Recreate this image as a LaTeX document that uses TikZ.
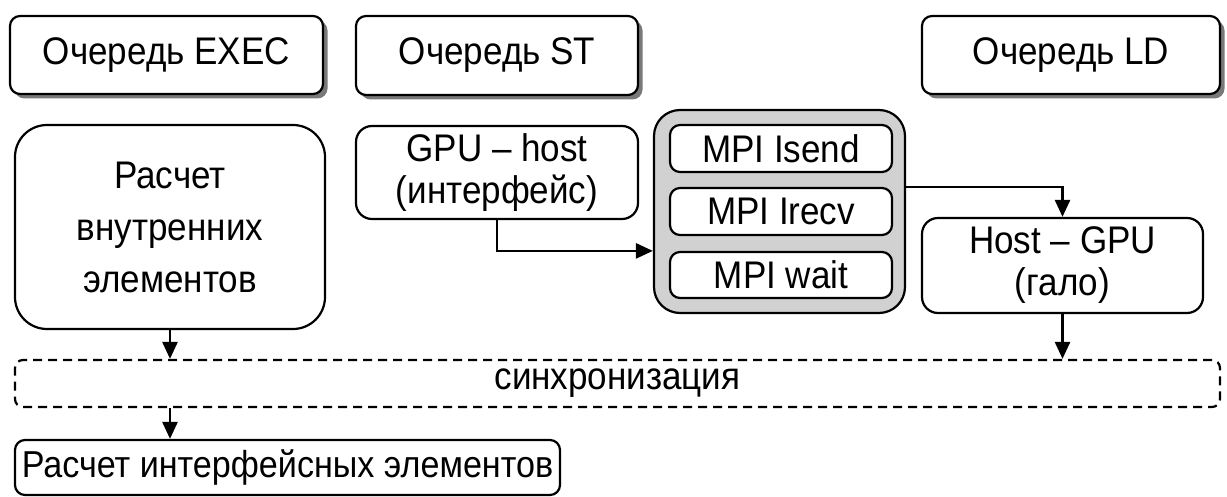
\documentclass[tikz,border=0pt]{standalone}
\usepackage{fontspec}
\setmainfont{Liberation Sans}[FakeStretch=0.91]
\usetikzlibrary{arrows.meta,shadows}
\begin{document}
\begin{tikzpicture}[x=1pt,y=-1pt,
  every node/.style={font=\fontsize{38.5}{42}\selectfont, inner sep=0pt, align=center},
  box/.style={draw=black, line width=2.2pt, fill=white, rounded corners=#1},
  box/.default=10pt,
  queue/.style={box=10pt, drop shadow={shadow xshift=4.5pt, shadow yshift=-4.5pt, fill=black!70, opacity=.75}},
  conn/.style={line width=2.6pt, -{Triangle[length=17pt,width=15pt]}}]
\useasboundingbox (0,0) rectangle (1227,497);
% queues
\node[queue, minimum width=313pt, minimum height=78pt] (exec) at (166.5,55) {Очередь EXEC};
\node[queue, minimum width=282pt, minimum height=79pt] (st) at (497,55.5) {Очередь ST};
\node[queue, minimum width=298pt, minimum height=78pt] (ld) at (1071,55) {Очередь LD};
% tasks
\node[box=32pt, minimum width=310pt, minimum height=204pt, font=\fontsize{38.5}{52}\selectfont] (inner) at (170,227) {Расчет\\внутренних\\элементов};
\node[box=16pt, minimum width=282pt, minimum height=93pt] (gh) at (497,172.5) {GPU – host\\(интерфейс)};
\node[box=26pt, fill=black!18, minimum width=251pt, minimum height=203pt] (grp) at (779.5,211.5) {};
\node[box=10pt, minimum width=222pt, minimum height=47pt] (isend) at (781,148.5) {MPI Isend};
\node[box=10pt, minimum width=222pt, minimum height=47pt] (irecv) at (781,211.5) {MPI Irecv};
\node[box=10pt, minimum width=222pt, minimum height=46pt] (wait) at (781,275) {MPI wait};
\node[box=16pt, minimum width=281pt, minimum height=95pt] (hg) at (1062.5,265.5) {Host – GPU\\(гало)};
\node[box=8pt, dash pattern=on 9pt off 6pt, minimum width=1205pt, minimum height=47pt] (sync) at (617.5,383.5) {синхронизация};
\node[box=10pt, minimum width=545pt, minimum height=55pt, font=\fontsize{37.5}{42}\selectfont] (calc) at (287.5,467.5) {Расчет интерфейсных элементов};
% connectors
\draw[conn] (inner.south) -- (inner.south |- sync.north);
\draw[conn] (sync.south -| inner.south) -- (calc.north -| inner.south);
\draw[conn] (gh.south) |- (grp.west |- wait.north);
\draw[conn] (grp.east |- irecv.north) -| (hg.north);
\draw[conn] (hg.south) -- (hg.south |- sync.north);
\end{tikzpicture}
\end{document}
